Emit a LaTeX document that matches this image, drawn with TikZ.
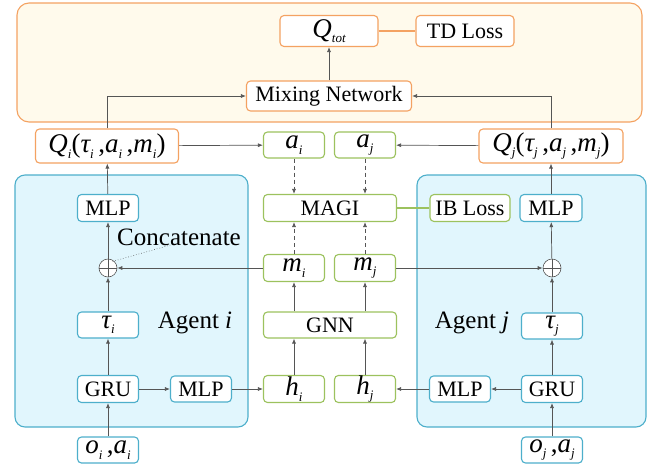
\documentclass[tikz,border=0pt]{standalone}
\usepackage{fontspec}
\setmainfont{Liberation Serif}
\newfontfamily\tnr{Liberation Serif}
\usetikzlibrary{arrows.meta,calc}
\definecolor{orng}{HTML}{F4A262}
\definecolor{orngbg}{HTML}{FFFAEC}
\definecolor{blu}{HTML}{4DAFCB}
\definecolor{blubg}{HTML}{E1F6FD}
\definecolor{grn}{HTML}{9CC25E}
\definecolor{conn}{HTML}{555555}
\newcommand\lsub[1]{\raisebox{-0.45ex}{\tnr\fontsize{13}{13}\selectfont\itshape #1}}
\newcommand\mth[1]{{\itshape #1}}
\begin{document}
\begin{tikzpicture}[x=1pt,y=-1pt,
  every node/.style={font=\tnr\fontsize{22}{24}\selectfont, inner sep=0pt},
  box/.style={draw, fill=white, rounded corners=4pt, line width=1.1pt},
  obox/.style={box, draw=orng},
  bbox/.style={box, draw=blu},
  gbox/.style={box, draw=grn},
  mathfont/.style={font=\tnr\fontsize{27}{28}\selectfont},
  conn/.style={draw=conn, line width=0.7pt, -{Latex[length=5pt,width=4pt]}},
  dconn/.style={conn, dash pattern=on 4pt off 3pt},
  plain/.style={draw=conn, line width=0.7pt},
  oplus/.style={circle, draw=conn, fill=white, line width=0.6pt, minimum size=18pt}
]
\useasboundingbox (0,0) rectangle (655,466);
% backgrounds
\draw[orng, fill=orngbg, line width=1.1pt, rounded corners=12pt] (17,3) rectangle (642,122);
\draw[blu, fill=blubg, line width=1.1pt, rounded corners=10pt] (15,175) rectangle (248,427);
\draw[blu, fill=blubg, line width=1.1pt, rounded corners=10pt] (417,175) rectangle (646,427);

% top
\node[obox, minimum width=98pt, minimum height=31pt, mathfont] (qtot) at (329,31) {\mth{Q}\lsub{tot}};
\node[obox, minimum width=98pt, minimum height=31pt] (td) at (465,31) {TD Loss};
\node[obox, minimum width=165pt, minimum height=30pt] (mix) at (329,96) {Mixing Network};

% Q nodes
\node[obox, minimum width=143pt, minimum height=34pt, mathfont] (qi) at (107,146)
  {\mth{Q}\lsub{i}(\mth{τ}\lsub{i}\,,\mth{a}\lsub{i}\,,\mth{m}\lsub{i})};
\node[obox, minimum width=144pt, minimum height=34pt, mathfont] (qj) at (551,146)
  {\mth{Q}\lsub{j}(\mth{τ}\lsub{j}\,,\mth{a}\lsub{j}\,,\mth{m}\lsub{j})};

% center column
\node[gbox, minimum width=61pt, minimum height=26pt, mathfont] (ai) at (294,145) {\mth{a}\lsub{i}};
\node[gbox, minimum width=61pt, minimum height=26pt, mathfont] (aj) at (365,145) {\mth{a}\lsub{j}};
\node[gbox, minimum width=133pt, minimum height=27pt] (magi) at (330,208) {MAGI};
\node[gbox, minimum width=80pt, minimum height=27pt] (ib) at (470,208) {IB Loss};
\node[gbox, minimum width=61pt, minimum height=27pt, mathfont] (mi) at (294,268) {\mth{m}\lsub{i}};
\node[gbox, minimum width=61pt, minimum height=27pt, mathfont] (mj) at (365,268) {\mth{m}\lsub{j}};
\node[gbox, minimum width=133pt, minimum height=26pt] (gnn) at (330,325) {GNN};
\node[gbox, minimum width=61pt, minimum height=27pt, mathfont] (hi) at (294,389) {\mth{h}\lsub{i}};
\node[gbox, minimum width=61pt, minimum height=27pt, mathfont] (hj) at (365,389) {\mth{h}\lsub{j}};

% agent i
\node[bbox, minimum width=61pt, minimum height=27pt] (mlpi) at (108,208) {MLP};
\node[oplus] (opi) at (108,268) {};
\draw[conn, line width=0.5pt, -] (opi.north) -- (opi.south) (opi.west) -- (opi.east);
\node[bbox, minimum width=61pt, minimum height=26pt, mathfont] (taui) at (108,325) {\mth{τ}\lsub{i}};
\node[bbox, minimum width=61pt, minimum height=27pt] (grui) at (108,389) {GRU};
\node[bbox, minimum width=61pt, minimum height=26pt] (mlpi1) at (201,389) {MLP};
\node[bbox, minimum width=61pt, minimum height=26pt, mathfont] (oi) at (108,450) {\mth{o}\lsub{i}\,,\mth{a}\lsub{i}};
\node[font=\tnr\fontsize{25}{26}\selectfont] (agi) at (195,323) {Agent \mth{i}};
\node[font=\tnr\fontsize{25}{26}\selectfont] (cat) at (179,237) {Concatenate};

% agent j
\node[bbox, minimum width=62pt, minimum height=27pt] (mlpj) at (551,208) {MLP};
\node[oplus] (opj) at (552,268) {};
\draw[conn, line width=0.5pt, -] (opj.north) -- (opj.south) (opj.west) -- (opj.east);
\node[bbox, minimum width=61pt, minimum height=26pt, mathfont] (tauj) at (552,326) {\mth{τ}\lsub{j}};
\node[bbox, minimum width=61pt, minimum height=27pt] (gruj) at (552,389) {GRU};
\node[bbox, minimum width=61pt, minimum height=26pt] (mlpj1) at (460,389) {MLP};
\node[bbox, minimum width=61pt, minimum height=26pt, mathfont] (oj) at (552,450) {\mth{o}\lsub{j}\,,\mth{a}\lsub{j}};
\node[font=\tnr\fontsize{25}{26}\selectfont] (agj) at (472,323) {Agent \mth{j}};

% connectors top
\draw[conn] (mix) -- (qtot);
\draw[plain, orng, line width=1.1pt] (qtot) -- (td);
\draw[conn] (qi.north) |- (mix.west);
\draw[conn] (qj.north) |- (mix.east);
\draw[conn] (qi) -- (ai);
\draw[conn] (qj) -- (aj);
\draw[dconn] (ai) -- (ai |- magi.north);
\draw[dconn] (aj) -- (aj |- magi.north);
\draw[dconn] (mi) -- (mi |- magi.south);
\draw[dconn] (mj) -- (mj |- magi.south);
\draw[plain, grn, line width=1.1pt] (magi) -- (ib);
\draw[conn] (gnn.north -| mi) -- (mi);
\draw[conn] (gnn.north -| mj) -- (mj);
\draw[conn] (hi) -- (hi |- gnn.south);
\draw[conn] (hj) -- (hj |- gnn.south);

% agent i connectors
\draw[conn] (oi) -- (grui);
\draw[conn] (grui) -- (taui);
\draw[conn] (taui) -- (opi);
\draw[conn] (opi) -- (mlpi);
\draw[conn] (mlpi) -- (qi);
\draw[conn] (grui) -- (mlpi1);
\draw[conn] (mlpi1) -- (hi);
\draw[conn] (mi) -- (opi);
\draw[conn, -, dotted, line width=0.5pt] (opi.north east) ++(-2,0) -- ($(cat.south west)+(55,-1)$);

% agent j connectors
\draw[conn] (oj) -- (gruj);
\draw[conn] (gruj) -- (tauj);
\draw[conn] (tauj) -- (opj);
\draw[conn] (opj) -- (mlpj);
\draw[conn] (mlpj) -- (qj);
\draw[conn] (gruj) -- (mlpj1);
\draw[conn] (mlpj1) -- (hj);
\draw[conn] (mj) -- (opj);
\end{tikzpicture}
\end{document}
